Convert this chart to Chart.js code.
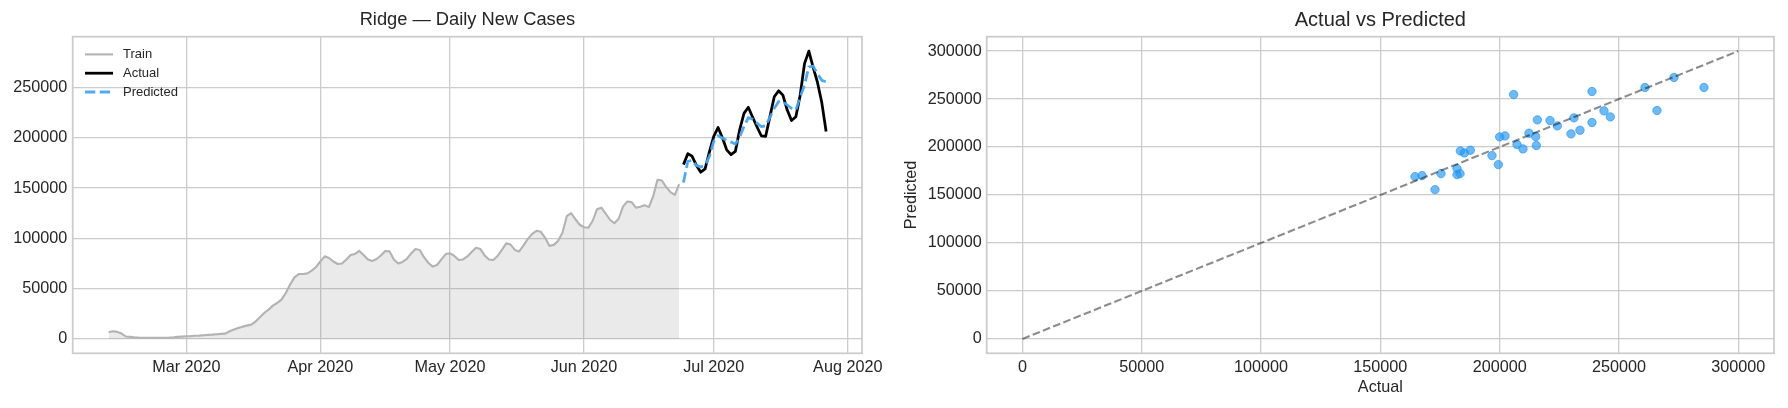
<!DOCTYPE html>
<html><head><meta charset="utf-8">
<script src="https://cdn.jsdelivr.net/npm/chart.js@4.4.0/dist/chart.umd.min.js"></script>
<style>
html,body{margin:0;padding:0;background:#fff;}
#wrap{position:relative;width:1788px;height:408px;background:#fff;}
.box{position:absolute;top:0;height:408px;width:894px;}
#b1{left:0;} #b2{left:894px;}
</style></head><body>
<div id="wrap"><div class="box" id="b1"><canvas id="c1"></canvas></div><div class="box" id="b2"><canvas id="c2"></canvas></div></div>
<script>
// ---------------- DATA ----------------
const trainStart = '2020-02-12';
const trainValues = [
  // Feb 12 - Feb 29
  6600, 7600, 7000, 5300, 2400, 2000, 1600, 1300, 1200, 1100, 1000, 1000, 1000, 1100, 1300, 1600, 2000, 2300,
  // Mar
  2600, 2800, 3100, 3300, 3700, 4000, 4300, 4700, 5000, 5300, 7600, 9300, 10900, 12200, 13200, 14200, 17200, 21500, 25800, 29100, 33100, 35700, 39000, 45700, 54000, 61200, 64500, 64500, 65200, 67900, 71500,
  // Apr
  77100, 82100, 80500, 77000, 74500, 75000, 79000, 83500, 84500, 87500, 83500, 79000, 77500, 79500, 83000, 87400, 87000, 79000, 75000, 76500, 79500, 85000, 89400, 88400, 81000, 75500, 71900, 73500, 79000, 84400,
  // May
  85100, 82500, 78500, 79000, 82000, 86500, 90700, 89500, 83000, 79000, 78500, 82500, 88500, 95000, 93800, 88500, 87000, 93000, 99500, 104500, 107500, 106500, 100500, 92500, 93500, 97500, 105500, 122000, 125000, 119000, 113500,
  // Jun 1 - Jun 23
  111000, 110500, 117500, 129000, 130500, 124500, 118500, 115000, 119500, 131500, 136700, 136000, 130500, 131500, 133000, 131000, 142000, 158300, 157500, 151000, 146000, 143300, 154000
];
const testStart = '2020-06-24';
const testActual = [173300, 184200, 181600, 172500, 165800, 169100, 186000, 201300, 210200, 200000, 188000, 183200, 186500, 208000, 224300, 230300, 220400, 211000, 202000, 201300, 221000, 240800, 246700, 242400, 227600, 217100, 221000, 242400, 273700, 286200, 270000, 255000, 235000, 206200];
const testPredicted = [155600, 176600, 177600, 172400, 171000, 172400, 181600, 196400, 202000, 199700, 197400, 195700, 193700, 200700, 211200, 220000, 218400, 214500, 211200, 211800, 220400, 229300, 235900, 235900, 232600, 229300, 227600, 240800, 252300, 270400, 271000, 263800, 257200, 255600];

const scatterActual = [164529, 167460, 175425, 172910, 182130, 182130, 183390, 183530, 185200, 187720, 196800, 199450, 200010, 202250, 205880, 207280, 209790, 212300, 215100, 215380, 215800, 221100, 224180, 229910, 231160, 233680, 238710, 238710, 243740, 246390, 260920, 265950, 273080, 285650];
const scatterPredicted = [169150, 170200, 172280, 155580, 177500, 171240, 172280, 195950, 193860, 196640, 191080, 181680, 210560, 211610, 254760, 202560, 198040, 214390, 210910, 201520, 228310, 227620, 222050, 213700, 230400, 217520, 257890, 225530, 237710, 231440, 262070, 238060, 272510, 262070];
const diagonal = [0, 300000];

const leftYTicks = [0, 50000, 100000, 150000, 200000, 250000];
const rightTicks = [0, 50000, 100000, 150000, 200000, 250000, 300000];
const monthTickDates = ['2020-03-01', '2020-04-01', '2020-05-01', '2020-06-01', '2020-07-01', '2020-08-01'];
const monthTickLabels = ['Mar 2020', 'Apr 2020', 'May 2020', 'Jun 2020', 'Jul 2020', 'Aug 2020'];

const leftTitle = 'Ridge — Daily New Cases';
const rightTitle = 'Actual vs Predicted';
const seriesLabels = ['Train', 'Actual', 'Predicted'];
const xAxisTitle = 'Actual';
const yAxisTitle = 'Predicted';

// ---------------- HELPERS ----------------
const DAY = 86400000;
const base = Date.UTC(2020, 1, 12);
function dayNum(s) { const [y, m, d] = s.split('-').map(Number); return (Date.UTC(y, m - 1, d) - base) / DAY; }

const FONT = "'Liberation Sans', Arial, sans-serif";
const TXT = '#262626';
const GRID = '#cccccc';
Chart.defaults.font.family = FONT;
Chart.defaults.color = TXT;

const trainPts = trainValues.map((v, i) => ({x: dayNum(trainStart) + i, y: v}));
const actPts = testActual.map((v, i) => ({x: dayNum(testStart) + i, y: v}));
const predPts = testPredicted.map((v, i) => ({x: dayNum(testStart) + i, y: v}));
const scatPts = scatterActual.map((v, i) => ({x: v, y: scatterPredicted[i]}));
const diagPts = diagonal.map(v => ({x: v, y: v}));

// matplotlib-like 5% margins
const allX = trainPts.concat(actPts, predPts).map(p => p.x);
const xMinD = Math.min(...allX), xMaxD = Math.max(...allX);
const allY = trainValues.concat(testActual, testPredicted, [0]);
const yMinD = Math.min(...allY), yMaxD = Math.max(...allY);
const mx = (xMaxD - xMinD) * 0.05, my = (yMaxD - yMinD) * 0.05;
const monthTickDays = monthTickDates.map(dayNum);
const rMin = diagonal[0] - (diagonal[1] - diagonal[0]) * 0.05;
const rMax = diagonal[1] + (diagonal[1] - diagonal[0]) * 0.05;

const framePlugin = {
  id: 'frame',
  afterDatasetsDraw(chart) {
    const a = chart.chartArea, ctx = chart.ctx;
    ctx.save();
    ctx.strokeStyle = '#cccccc';
    ctx.lineWidth = 1.75;
    ctx.strokeRect(a.left, a.top, a.right - a.left, a.bottom - a.top);
    ctx.restore();
  }
};

// axes title centred over the plot area (like matplotlib)
const axTitlePlugin = {
  id: 'axTitle',
  afterDraw(chart, args, opts) {
    const a = chart.chartArea, ctx = chart.ctx;
    ctx.save();
    ctx.font = opts.size + 'px ' + FONT;
    ctx.fillStyle = TXT;
    ctx.textAlign = 'center';
    ctx.textBaseline = 'middle';
    ctx.fillText(opts.text, (a.left + a.right) / 2, opts.y);
    ctx.restore();
  }
};

const legendPlugin = {
  id: 'inlegend',
  afterDraw(chart) {
    const ctx = chart.ctx;
    ctx.save();
    ctx.font = '13px ' + FONT;
    ctx.textBaseline = 'middle';
    ctx.fillStyle = TXT;
    chart.data.datasets.forEach((ds, i) => {
      const y = 54.4 + i * 18.8;
      ctx.save();
      ctx.strokeStyle = ds.borderColor;
      ctx.lineWidth = ds.borderWidth;
      ctx.setLineDash(ds.borderDash || []);
      ctx.beginPath();
      ctx.moveTo(85, y); ctx.lineTo(113, y);
      ctx.stroke();
      ctx.restore();
      ctx.fillText(ds.label, 123, y);
    });
    ctx.restore();
  }
};

function tickFont() { return {size: 16.2, family: FONT}; }

// ---------------- LEFT CHART ----------------
new Chart(document.getElementById('c1'), {
  type: 'line',
  data: {
    datasets: [
      {label: seriesLabels[0], data: trainPts, borderColor: '#b3b3b3', borderWidth: 2.1, pointRadius: 0,
       fill: 'origin', backgroundColor: 'rgba(128,128,128,0.17)', order: 3, borderJoinStyle: 'round'},
      {label: seriesLabels[1], data: actPts, borderColor: '#000000', borderWidth: 2.78, pointRadius: 0,
       fill: false, order: 2, borderJoinStyle: 'round'},
      {label: seriesLabels[2], data: predPts, borderColor: 'rgba(66,165,245,0.95)', borderWidth: 2.78, pointRadius: 0,
       borderDash: [10.3, 4.45], fill: false, order: 1}
    ]
  },
  options: {
    responsive: true, maintainAspectRatio: false, animation: false, devicePixelRatio: 1,
    layout: {padding: {left: 0, right: 32, top: 36.7, bottom: 0}},
    plugins: {
      legend: {display: false}, tooltip: {enabled: false}, title: {display: false},
      axTitle: {text: leftTitle, size: 18.3, y: 20}
    },
    scales: {
      x: {
        type: 'linear', min: xMinD - mx, max: xMaxD + mx,
        afterBuildTicks: s => { s.ticks = monthTickDays.map(v => ({value: v})); },
        afterFit: s => { s.height = 54.7; s.paddingLeft = 0; s.paddingRight = 0; },
        grid: {color: GRID, lineWidth: 1.3, drawTicks: false},
        border: {display: false},
        ticks: {padding: 5, color: TXT, font: tickFont(), maxRotation: 0, autoSkip: false,
                callback: (v, i) => monthTickLabels[i]}
      },
      y: {
        type: 'linear', min: yMinD - my, max: yMaxD + my,
        afterBuildTicks: s => { s.ticks = leftYTicks.map(v => ({value: v})); },
        afterFit: s => { s.width = 72.7; s.paddingTop = 0; s.paddingBottom = 0; },
        grid: {color: GRID, lineWidth: 1.3, drawTicks: false},
        border: {display: false},
        ticks: {padding: 5.5, color: TXT, font: tickFont(), callback: v => String(v)}
      }
    }
  },
  plugins: [framePlugin, axTitlePlugin, legendPlugin]
});

// ---------------- RIGHT CHART ----------------
new Chart(document.getElementById('c2'), {
  type: 'scatter',
  data: {
    datasets: [
      {label: 'diag', data: diagPts, showLine: true, borderColor: 'rgba(0,0,0,0.45)', borderWidth: 2.1,
       borderDash: [7.7, 3.3], pointRadius: 0, fill: false, order: 0},
      {label: 'pts', data: scatPts, backgroundColor: 'rgba(33,150,243,0.66)', borderColor: 'rgba(33,150,243,0.66)',
       borderWidth: 1, pointRadius: 4.2, order: 1}
    ]
  },
  options: {
    responsive: true, maintainAspectRatio: false, animation: false, devicePixelRatio: 1,
    layout: {padding: {left: 0, right: 14, top: 36.7, bottom: 0}},
    plugins: {
      legend: {display: false}, tooltip: {enabled: false}, title: {display: false},
      axTitle: {text: rightTitle, size: 20, y: 20}
    },
    scales: {
      x: {
        type: 'linear', min: rMin, max: rMax,
        afterBuildTicks: s => { s.ticks = rightTicks.map(v => ({value: v})); },
        afterFit: s => { s.height = 54.7; s.paddingLeft = 0; s.paddingRight = 0; },
        grid: {color: GRID, lineWidth: 1.3, drawTicks: false},
        border: {display: false},
        ticks: {padding: 5, color: TXT, font: tickFont(), maxRotation: 0, autoSkip: false, callback: v => String(v)},
        title: {display: true, text: xAxisTitle, color: TXT, font: {size: 16.2, family: FONT}, padding: {top: 0, bottom: 10.6}}
      },
      y: {
        type: 'linear', min: rMin, max: rMax,
        afterBuildTicks: s => { s.ticks = rightTicks.map(v => ({value: v})); },
        afterFit: s => { s.width = 92.7; s.paddingTop = 0; s.paddingBottom = 0; },
        grid: {color: GRID, lineWidth: 1.3, drawTicks: false},
        border: {display: false},
        ticks: {padding: 5, color: TXT, font: tickFont(), callback: v => String(v)},
        title: {display: true, text: yAxisTitle, color: TXT, font: {size: 16.2, family: FONT}, padding: {top: 8, bottom: 0}}
      }
    }
  },
  plugins: [framePlugin, axTitlePlugin]
});
</script></body></html>
